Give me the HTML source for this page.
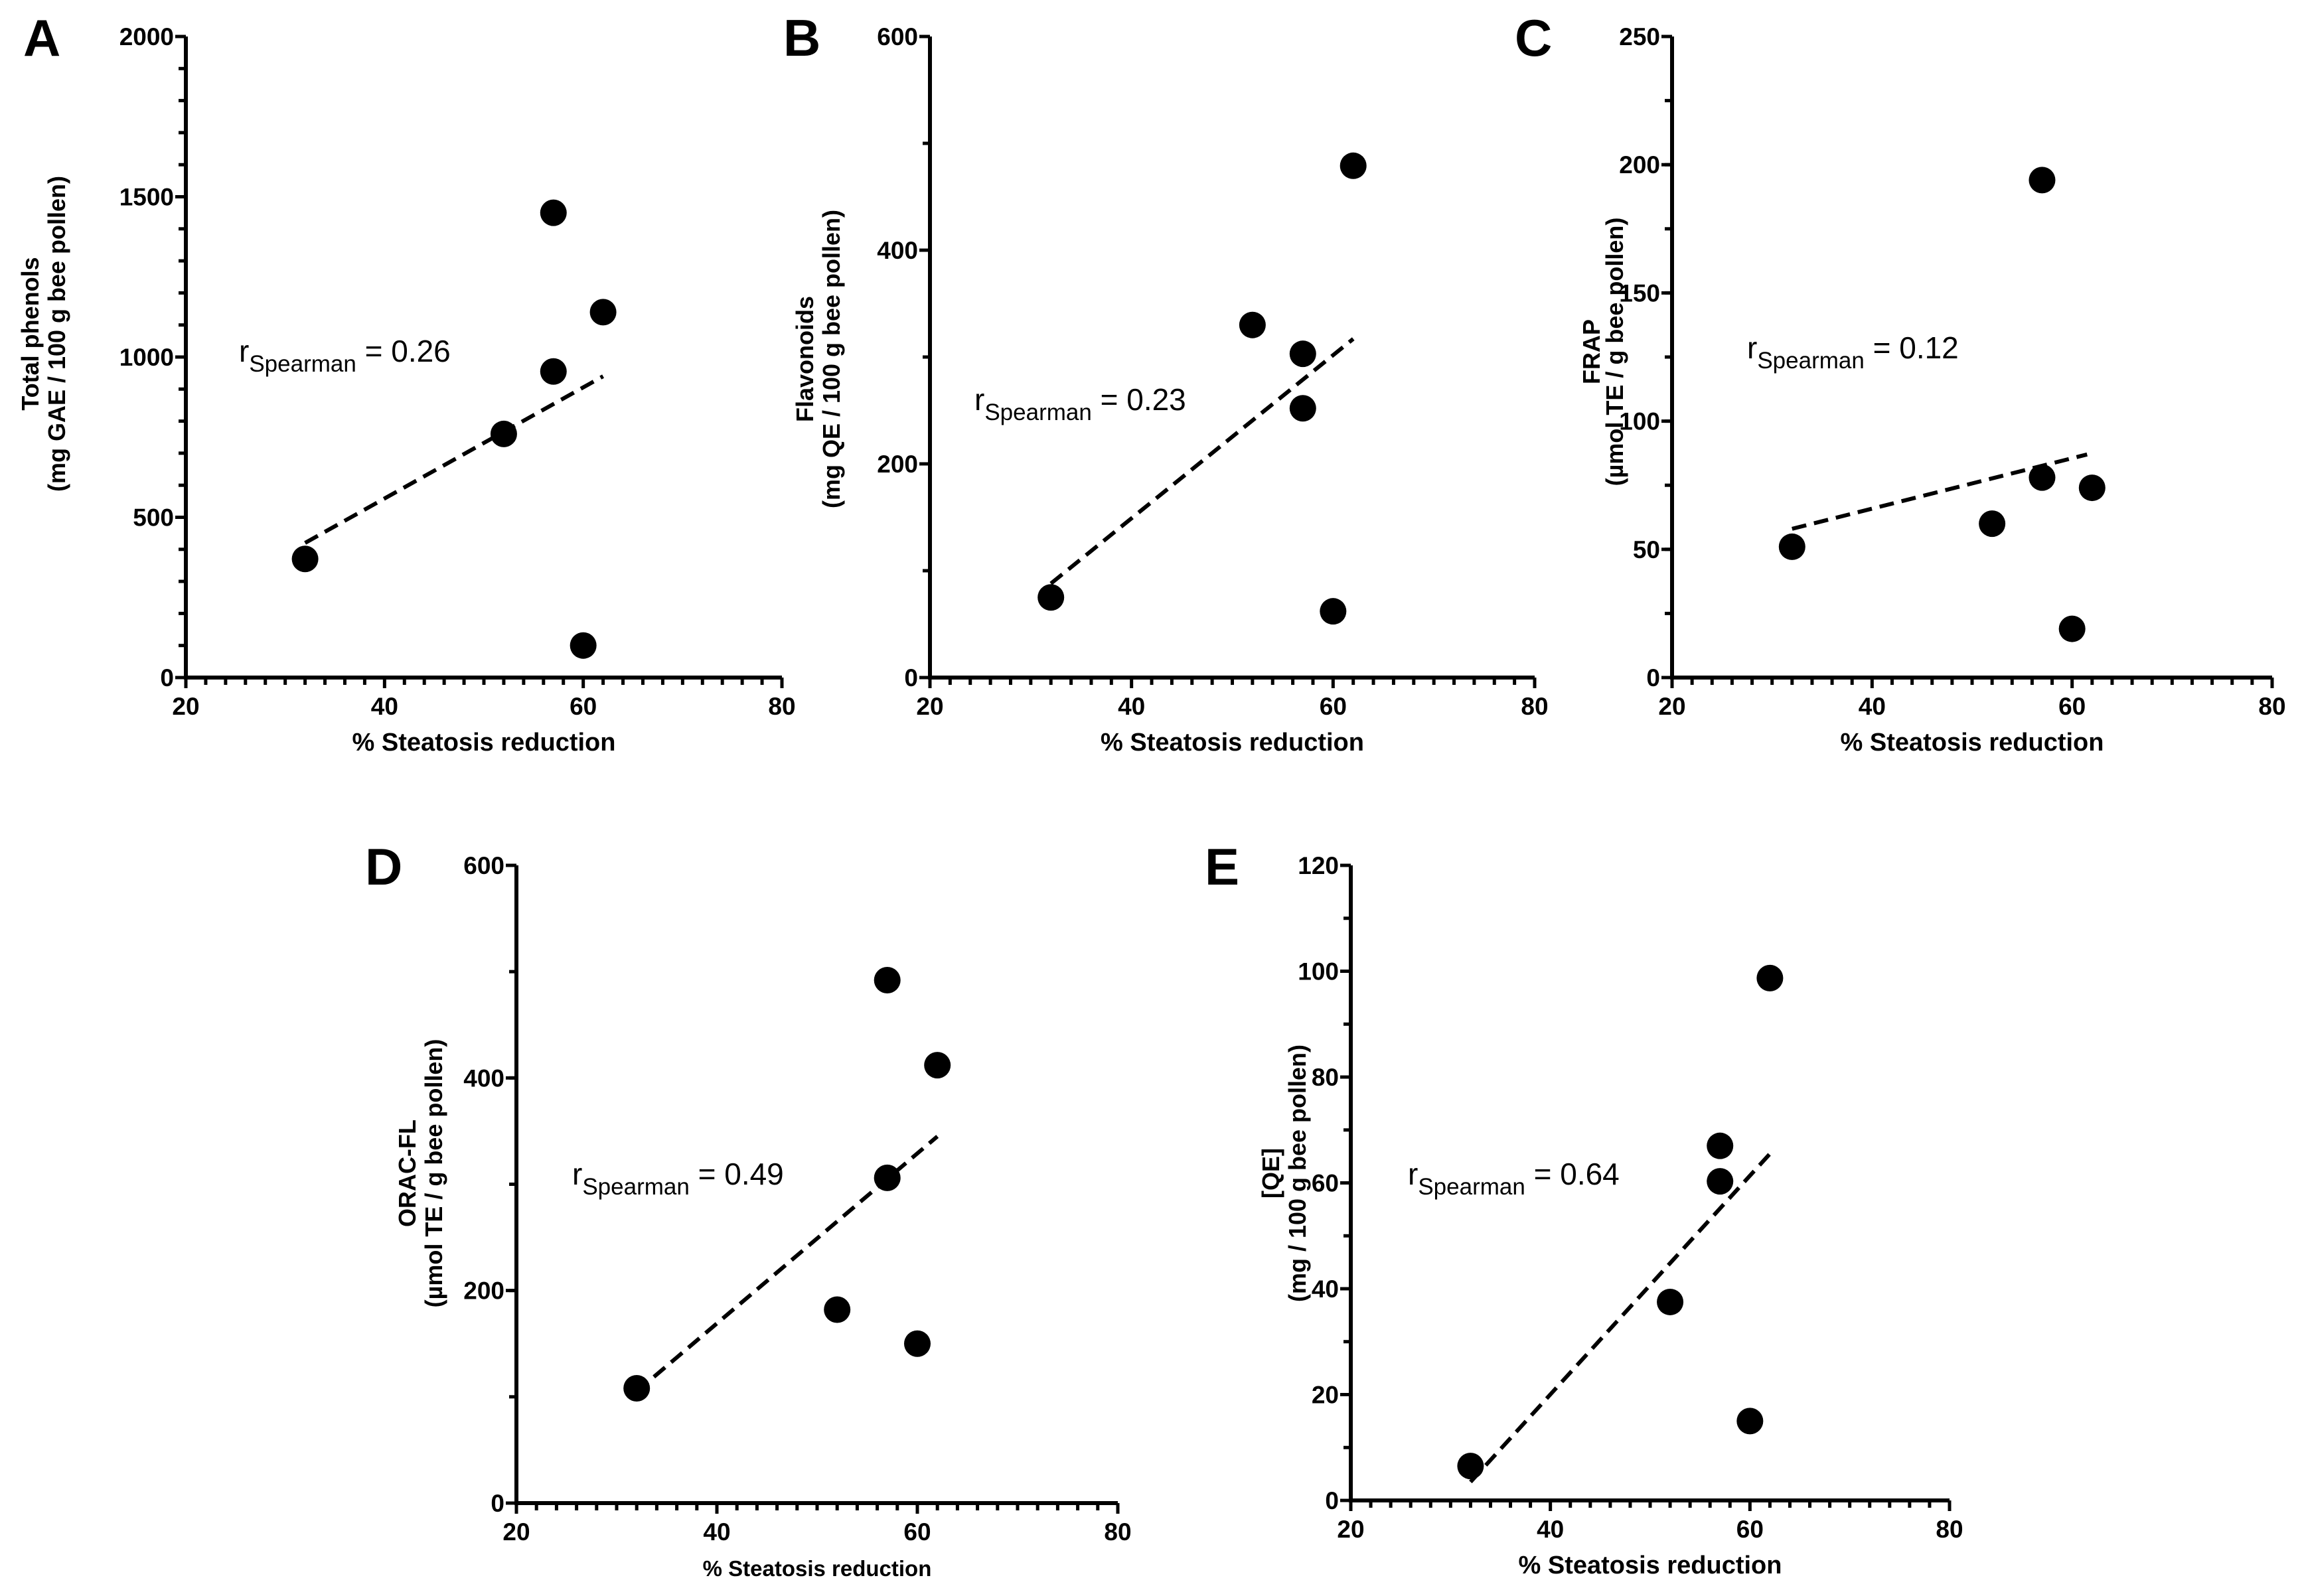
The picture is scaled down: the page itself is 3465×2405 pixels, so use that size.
<!DOCTYPE html>
<html><head><meta charset="utf-8">
<style>
html,body{margin:0;padding:0;background:#fff;}
svg{display:block;font-family:"Liberation Sans",Arial,sans-serif;}
</style></head>
<body>
<svg id="fig" width="3465" height="2405" viewBox="0 0 3465 2405" xmlns="http://www.w3.org/2000/svg"></svg>
<script>
// shared x data (% steatosis reduction)
const xValues = [32, 52, 57, 57, 60, 62];
const xTicks = [20, 40, 60, 80];
// panel series
const phenols = [370, 760, 1450, 955, 100, 1140];
const flavonoids = [75, 330, 303, 252, 62, 479];
const frap = [51, 60, 194, 78, 19, 74];
const orac = [108, 182, 492, 306, 150, 412];
const qe = [6.5, 37.5, 67, 60.3, 15, 98.7];
// fit line endpoints [x0,y0,x1,y1]
const fitA = [32, 420, 62, 940];
const fitB = [32, 88, 62, 317];
const fitC = [32, 58, 61.5, 87];
const fitD = [32, 105, 62, 345];
const fitE = [32, 3.5, 62, 65.5];
const yTicksA = [0, 500, 1000, 1500, 2000];
const yTicksB = [0, 200, 400, 600];
const yTicksC = [0, 50, 100, 150, 200, 250];
const yTicksD = [0, 200, 400, 600];
const yTicksE = [0, 20, 40, 60, 80, 100, 120];
const rLabels = ["0.26", "0.23", "0.12", "0.49", "0.64"];

const NS = "http://www.w3.org/2000/svg";
const svg = document.getElementById('fig');
function mk(tag, attrs, parent, text) {
  const e = document.createElementNS(NS, tag);
  for (const k in attrs) e.setAttribute(k, attrs[k]);
  if (text !== undefined) e.textContent = text;
  (parent || svg).appendChild(e);
  return e;
}

function panel(cfg) {
  const g = mk('g', {});
  
  
  const sx = v => cfg.x0 + (v - 20) / 60 * (cfg.x1 - cfg.x0);
  const sy = v => cfg.y1 - v / cfg.ymax * (cfg.y1 - cfg.y0);
  const L = mk('text', {x: cfg.lx, y: cfg.ly, 'font-size': 78, 'font-weight': 'bold'}, g, cfg.id.toUpperCase());
  
  
  const ax = mk('path', {d: `M${cfg.x0} ${cfg.y0} V${cfg.y1} H${cfg.x1}`, fill: 'none', stroke: '#000', 'stroke-width': 6}, g);
  
  
  for (let v = 0; v <= cfg.ymax + 1e-9; v += cfg.yminor) {
    mk('line', {x1: cfg.x0 - 11, x2: cfg.x0, y1: sy(v), y2: sy(v), stroke: '#000', 'stroke-width': 5}, g);
  }
  cfg.yticks.forEach(v => {
    mk('line', {x1: cfg.x0 - 16, x2: cfg.x0, y1: sy(v), y2: sy(v), stroke: '#000', 'stroke-width': 5}, g);
    const t = mk('text', {x: cfg.x0 - 18, y: sy(v) + 13, 'font-size': 37, 'font-weight': 'bold', 'text-anchor': 'end'}, g, String(v));
    
    
  });
  for (let v = 20; v <= 80; v += 2) {
    const major = v % 20 === 0;
    mk('line', {x1: sx(v), x2: sx(v), y1: cfg.y1, y2: cfg.y1 + (major ? 16 : 11), stroke: '#000', 'stroke-width': 5}, g);
  }
  xTicks.forEach(v => {
    const t = mk('text', {x: sx(v), y: cfg.y1 + 56, 'font-size': 37, 'font-weight': 'bold', 'text-anchor': 'middle'}, g, String(v));
    
    
  });
  const xt = mk('text', {x: (cfg.x0 + cfg.x1) / 2, y: cfg.y1 + 110, 'font-size': cfg.xtSize, 'font-weight': 'bold', 'text-anchor': 'middle'}, g, '% Steatosis reduction');
  
  
  const yt = mk('text', {transform: `translate(${cfg.ytx},${cfg.yty}) rotate(-90)`, 'font-size': 36, 'font-weight': 'bold', 'text-anchor': 'middle'}, g);
  
  
  mk('tspan', {x: 0, y: 0}, yt, cfg.yt1);
  mk('tspan', {x: 0, y: cfg.ytGap || 40}, yt, cfg.yt2);
  const f = cfg.fit;
  const fl = mk('line', {x1: sx(f[0]), y1: sy(f[1]), x2: sx(f[2]), y2: sy(f[3]), stroke: '#000', 'stroke-width': 6, 'stroke-dasharray': '22 12'}, g);
  
  
  cfg.ys.forEach((v, i) => {
    const c = mk('circle', {cx: sx(xValues[i]), cy: sy(v), r: 20, fill: '#000'}, g);
    
    
  });
  const an = mk('text', {x: cfg.ax, y: cfg.ay, 'font-size': 46}, g);
  
  
  mk('tspan', {}, an, 'r');
  mk('tspan', {dy: 15, 'font-size': 35}, an, 'Spearman');
  mk('tspan', {dy: -15}, an, ' = ' + cfg.r);
}

panel({id: 'a', x0: 280, x1: 1178, y0: 55, y1: 1021, ymax: 2000, yminor: 100, yticks: yTicksA, ys: phenols, fit: fitA,
  lx: 35, ly: 84, ytx: 58, yty: 503, yt1: 'Total phenols', yt2: '(mg GAE / 100 g bee pollen)', xtSize: 38, ax: 360, ay: 545, r: rLabels[0]});
panel({id: 'b', x0: 1401, x1: 2312, y0: 55, y1: 1021, ymax: 600, yminor: 100, yticks: yTicksB, ys: flavonoids, fit: fitB,
  lx: 1180, ly: 84, ytx: 1225, yty: 541, yt1: 'Flavonoids', yt2: '(mg QE / 100 g bee pollen)', xtSize: 38, ax: 1468, ay: 618, r: rLabels[1]});
panel({id: 'c', x0: 2519, x1: 3423, y0: 55, y1: 1021, ymax: 250, yminor: 25, yticks: yTicksC, ys: frap, fit: fitC,
  lx: 2282, ly: 84, ytx: 2410, yty: 530, ytGap: 35, yt1: 'FRAP', yt2: '(µmol TE / g bee pollen)', xtSize: 38, ax: 2632, ay: 540, r: rLabels[2]});
panel({id: 'd', x0: 778, x1: 1684, y0: 1304, y1: 2265, ymax: 600, yminor: 100, yticks: yTicksD, ys: orac, fit: fitD,
  lx: 550, ly: 1333, ytx: 626, yty: 1768, yt1: 'ORAC-FL', yt2: '(µmol TE / g bee pollen)', xtSize: 33, ax: 862, ay: 1785, r: rLabels[3]});
panel({id: 'e', x0: 2035, x1: 2937, y0: 1304, y1: 2261, ymax: 120, yminor: 10, yticks: yTicksE, ys: qe, fit: fitE,
  lx: 1815, ly: 1333, ytx: 1927, yty: 1768, yt1: '[QE]', yt2: '(mg / 100 g bee pollen)', xtSize: 38, ax: 2121, ay: 1785, r: rLabels[4]});
</script>
</body></html>
